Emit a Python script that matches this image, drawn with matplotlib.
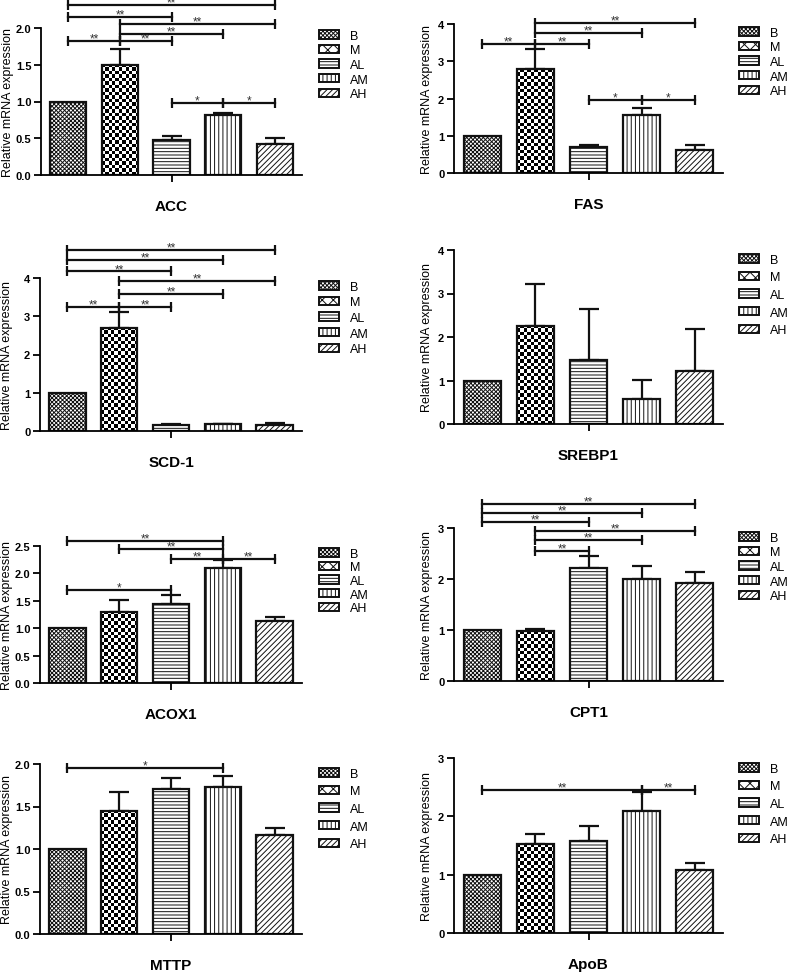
import numpy as np
import matplotlib
matplotlib.use("Agg")
from matplotlib import pyplot as plt
from matplotlib.patches import Patch

plt.rcParams['font.family'] = ['Liberation Sans', 'DejaVu Sans']
plt.rcParams['hatch.linewidth'] = 0.7

groups = ['B', 'M', 'AL', 'AM', 'AH']
genes = ['ACC', 'FAS', 'SCD-1', 'SREBP1', 'ACOX1', 'CPT1', 'MTTP', 'ApoB']

# mean and upper error (SD)
acc_mean = [1.0, 1.50, 0.47, 0.81, 0.42]
acc_err = [0, 0.21, 0.06, 0.04, 0.09]
fas_mean = [1.0, 2.79, 0.70, 1.55, 0.63]
fas_err = [0, 0.54, 0.06, 0.19, 0.13]
scd_mean = [1.0, 2.70, 0.15, 0.17, 0.16]
scd_err = [0, 0.42, 0.02, 0.02, 0.04]
srebp_mean = [1.0, 2.26, 1.47, 0.57, 1.22]
srebp_err = [0, 0.95, 1.17, 0.44, 0.96]
acox_mean = [1.0, 1.30, 1.45, 2.09, 1.13]
acox_err = [0, 0.21, 0.15, 0.15, 0.08]
cpt_mean = [1.0, 0.98, 2.22, 2.00, 1.93]
cpt_err = [0, 0.04, 0.24, 0.25, 0.20]
mttp_mean = [1.0, 1.45, 1.71, 1.73, 1.17]
mttp_err = [0, 0.22, 0.13, 0.13, 0.08]
apob_mean = [1.0, 1.52, 1.58, 2.10, 1.08]
apob_err = [0, 0.17, 0.26, 0.31, 0.12]

# significance brackets: (group i, group j, height, label)
acc_sig = [(0, 4, 2.31, '**'), (0, 2, 2.15, '**'), (1, 4, 2.06, '**'), (1, 3, 1.92, '**'),
           (0, 1, 1.82, '**'), (1, 2, 1.82, '**'), (2, 3, 0.98, '*'), (3, 4, 0.98, '*')]
fas_sig = [(1, 4, 4.03, '**'), (1, 3, 3.75, '**'), (0, 1, 3.46, '**'), (1, 2, 3.46, '**'),
           (2, 3, 1.96, '*'), (3, 4, 1.96, '*')]
scd_sig = [(0, 4, 4.74, '**'), (0, 3, 4.47, '**'), (0, 2, 4.17, '**'), (1, 4, 3.93, '**'),
           (1, 3, 3.58, '**'), (0, 1, 3.24, '**'), (1, 2, 3.24, '**')]
srebp_sig = []
acox_sig = [(0, 3, 2.59, '**'), (1, 3, 2.44, '**'), (2, 3, 2.27, '**'), (3, 4, 2.27, '**'),
            (0, 2, 1.70, '*')]
cpt_sig = [(0, 4, 3.48, '**'), (0, 3, 3.30, '**'), (0, 2, 3.12, '**'), (1, 4, 2.94, '**'),
           (1, 3, 2.76, '**'), (1, 2, 2.55, '**')]
mttp_sig = [(0, 3, 1.95, '*')]
apob_sig = [(0, 3, 2.46, '**'), (3, 4, 2.46, '**')]

y_ticks = [[0, 0.5, 1.0, 1.5, 2.0], [0, 1, 2, 3, 4], [0, 1, 2, 3, 4], [0, 1, 2, 3, 4],
           [0, 0.5, 1.0, 1.5, 2.0, 2.5], [0, 1, 2, 3], [0, 0.5, 1.0, 1.5, 2.0], [0, 1, 2, 3]]
tick_fmt = ['%.1f', '%d', '%d', '%d', '%.1f', '%d', '%.1f', '%d']

means = [acc_mean, fas_mean, scd_mean, srebp_mean, acox_mean, cpt_mean, mttp_mean, apob_mean]
errs = [acc_err, fas_err, scd_err, srebp_err, acox_err, cpt_err, mttp_err, apob_err]
sigs = [acc_sig, fas_sig, scd_sig, srebp_sig, acox_sig, cpt_sig, mttp_sig, apob_sig]

# layout in pixels: (left, right, top, bottom) of each axes
W, H = 791, 979
boxes = [(41, 302, 29, 176), (454, 723, 25, 174),
         (40, 302, 279, 432), (454, 723, 251, 425),
         (40, 302, 547, 684), (454, 723, 529, 682),
         (40, 302, 765, 935), (454, 723, 759, 934)]
leg_first = [38, 35, 289, 262, 556, 540, 776, 771]
leg_step = [17, 17, 18, 20, 16, 17, 20, 20]

hatches = ['xxxxxxxx', None, '-----', '||||', '//////']
leg_hatches = ['xxxxxxxx', 'xxx', '-----', '||||', '//////']

fig = plt.figure(figsize=(W / 100, H / 100), dpi=100)


def checker(ax, bar):
    # checkerboard fill for the M bar
    x0, y0 = bar.get_x(), bar.get_y()
    x1, y1 = x0 + bar.get_width(), y0 + bar.get_height()
    p0 = ax.transData.transform((x0, y0))
    p1 = ax.transData.transform((x1, y1))
    nx = max(1, int(round(abs(p1[0] - p0[0]) / 3.4)))
    ny = max(1, int(round(abs(p1[1] - p0[1]) / 3.4)))
    ii, jj = np.indices((ny, nx))
    img = (ii + jj) % 2
    im = ax.imshow(img, cmap='gray_r', vmin=0, vmax=1, extent=(x0, x1, y0, y1),
                   aspect='auto', interpolation='nearest', origin='lower', zorder=1.5)
    im.set_clip_path(bar)


for k, gene in enumerate(genes):
    l, r, t, b = boxes[k]
    ax = fig.add_axes([l / W, 1 - b / H, (r - l) / W, (b - t) / H])
    x = np.arange(len(groups))
    ymax = y_ticks[k][-1]
    bars = ax.bar(x, means[k], width=0.7, color='white', edgecolor='#111111',
                  linewidth=1.6, zorder=2)
    for bar, h in zip(bars, hatches):
        if h:
            bar.set_hatch(h)
    bars[1].set_facecolor('none')
    ax.set_xlim(-0.53, 4.53)
    ax.set_ylim(0, ymax)
    checker(ax, bars[1])
    ax.set_xlim(-0.53, 4.53)
    ax.set_ylim(0, ymax)

    e = np.array(errs[k])
    m = np.array(means[k])
    keep = e > 0
    ax.errorbar(x[keep], m[keep], yerr=[np.zeros(keep.sum()), e[keep]], fmt='none',
                ecolor='#111111', elinewidth=1.6, capsize=7, capthick=1.6, zorder=1)

    for i, j, y, lab in sigs[k]:
        ax.plot([i, j], [y, y], color='#111111', lw=1.6, marker='|', ms=7, mew=1.6,
                clip_on=False, zorder=3)
        ax.annotate(lab, ((i + j) / 2, y), xytext=(0, -2.5), textcoords='offset points',
                    ha='center', va='bottom', fontsize=8.5, color='#333333',
                    annotation_clip=False)

    for s in ['top', 'right']:
        ax.spines[s].set_visible(False)
    for s in ['left', 'bottom']:
        ax.spines[s].set_linewidth(1.3)
    ax.set_xticks([2])
    ax.set_xticklabels([])
    ax.tick_params(axis='x', length=5, width=1.3)
    ax.set_yticks(y_ticks[k])
    ax.set_yticklabels([tick_fmt[k] % v for v in y_ticks[k]], fontweight='bold', fontsize=8)
    ax.tick_params(axis='y', length=5, width=1.3, pad=2)
    ax.set_ylabel('Relative mRNA expression', fontsize=9)
    ax.yaxis.set_label_coords(-27 / (r - l) if l < 100 else -21 / (r - l), 0.5)
    ax.annotate(gene, (0.5, 0), xycoords='axes fraction', xytext=(0, -31 * 0.72),
                textcoords='offset points', ha='center', va='center',
                fontsize=11, fontweight='bold')

    handles = [Patch(facecolor='white', edgecolor='#111111', hatch=h, linewidth=1.4)
               for h in leg_hatches]
    lx = 319 if l < 100 else 739
    spacing = (leg_step[k] - 14.4) / 12.5
    ax.legend(handles, groups, loc='upper left',
              bbox_to_anchor=(lx / W, 1 - (leg_first[k] - 7.2) / H),
              bbox_transform=fig.transFigure, frameon=False, fontsize=9,
              borderpad=0, borderaxespad=0, handlelength=1.6, handleheight=0.65,
              handletextpad=0.9, labelspacing=max(spacing, 0.05))

fig.savefig('out.png', dpi=100)
